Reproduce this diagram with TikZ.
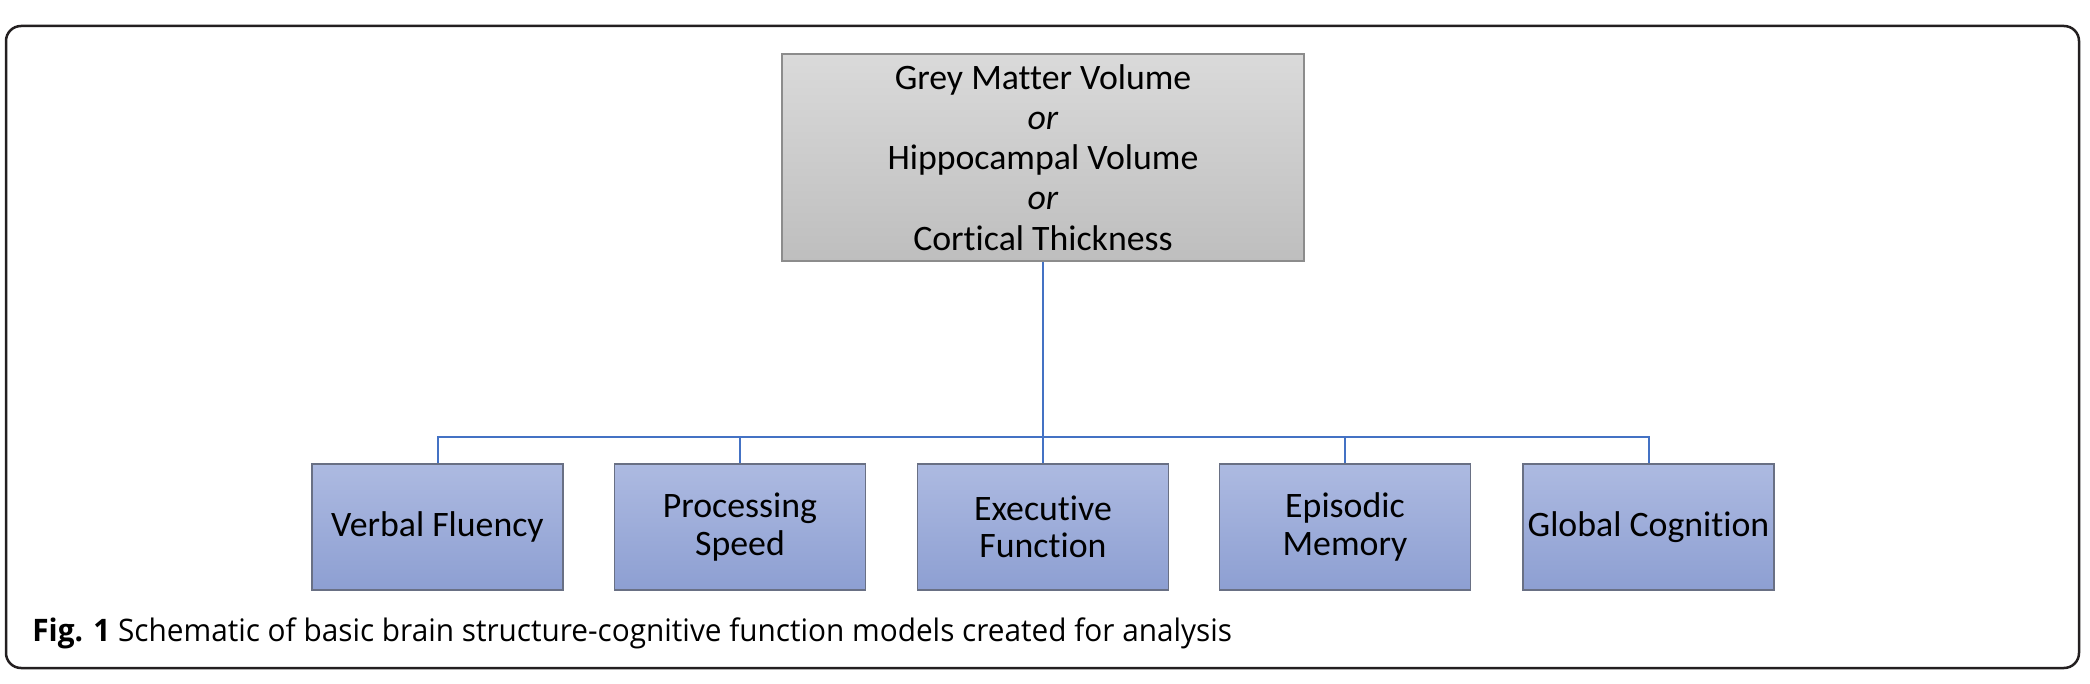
\documentclass[tikz,border=0pt]{standalone}
\usepackage{fontspec}
\setmainfont{Carlito}[Ligatures=NoCommon]
\newfontfamily\capfont[FakeStretch=0.96]{Open Sans}
\usepackage{tikz}
\usetikzlibrary{shadings}
\definecolor{greytop}{RGB}{218,218,218}
\definecolor{greybot}{RGB}{190,190,190}
\definecolor{greyedge}{RGB}{140,140,140}
\definecolor{bluetop}{RGB}{173,186,225}
\definecolor{bluebot}{RGB}{141,159,210}
\definecolor{blueedge}{RGB}{105,112,132}
\definecolor{linkblue}{RGB}{68,114,196}
\definecolor{framegrey}{RGB}{35,31,32}

\begin{document}
\begin{tikzpicture}[x=0.5pt,y=-0.5pt,
  measure/.style={draw=greyedge, line width=0.8pt, top color=greytop, bottom color=greybot,
    minimum width=261pt, minimum height=103.5pt, inner sep=0pt, align=center,
    font=\fontsize{17.9}{20.1}\selectfont},
  outcome/.style={draw=blueedge, line width=0.8pt, top color=bluetop, bottom color=bluebot,
    minimum width=125.5pt, minimum height=63pt, inner sep=0pt, align=center,
    font=\fontsize{17.9}{18.6}\selectfont},
  link/.style={draw=linkblue, line width=1pt}]
\useasboundingbox (0,0) rectangle (2090,684);
\draw [framegrey, line width=1.25pt, rounded corners=7.5pt] (6,26) rectangle (2079,668);
% brain structure
\node [measure] (gm) at (1043,157.5) {Grey Matter Volume\\\textit{or}\\Hippocampal Volume\\\textit{or}\\Cortical Thickness};
% cognitive outcomes
\node [outcome] (vf) at (437.5,527) {Verbal Fluency};
\node [outcome] (ps) at (740,527) {Processing\\Speed};
\node [outcome] (ef) at (1043,527) {Executive\\Function};
\node [outcome] (em) at (1345,527) {Episodic\\Memory};
\node [outcome] (gc) at (1648.5,527) {Global Cognition};
\coordinate (hub) at (1043,437);
\draw [link] (gm.south) -- (hub);
\draw [link] (hub) -| (vf.north);
\draw [link] (hub) -| (ps.north);
\draw [link] (hub) -- (ef.north);
\draw [link] (hub) -| (em.north);
\draw [link] (hub) -| (gc.north);
% caption
\node [anchor=base west, inner sep=0pt, font={\capfont\fontsize{15.5}{18}\selectfont}] (cap) at (32,641)
  {\textbf{Fig. 1} Schematic of basic brain structure-cognitive function models created for analysis};
\end{tikzpicture}
\end{document}
